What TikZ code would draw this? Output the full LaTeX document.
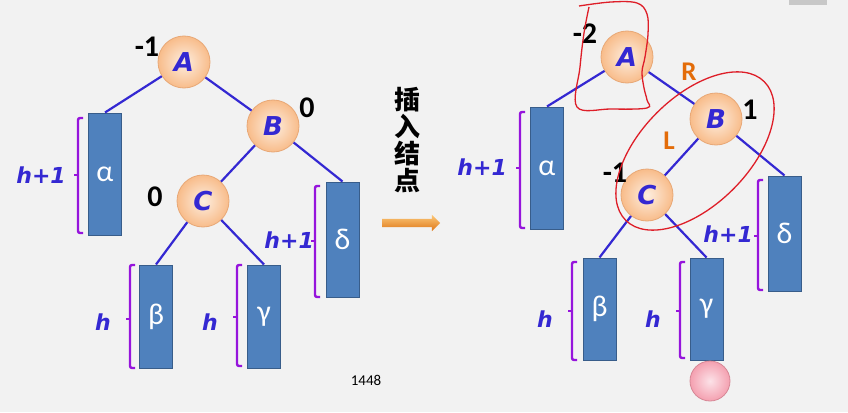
\documentclass[tikz,border=0pt]{standalone}
\usepackage{fontspec}
\setmainfont{Carlito}
\newfontfamily\dejavu{DejaVu Sans}
\newfontfamily\cjk{Noto Sans CJK SC}
\usetikzlibrary{shapes.arrows}
\definecolor{hinter}{RGB}{242,242,242}
\definecolor{grau}{RGB}{200,200,200}
\definecolor{blau}{RGB}{52,40,210}
\definecolor{lila}{RGB}{150,20,220}
\definecolor{rfill}{RGB}{79,129,189}
\definecolor{rrand}{RGB}{56,93,138}
\definecolor{kinnen}{RGB}{253,238,224}
\definecolor{kaussen}{RGB}{248,188,138}
\definecolor{krand}{RGB}{232,168,118}
\definecolor{rinnen}{RGB}{252,226,232}
\definecolor{raussen}{RGB}{244,160,176}
\definecolor{rrosa}{RGB}{214,136,150}
\definecolor{rot}{RGB}{222,30,40}
\definecolor{porange}{RGB}{227,108,9}
\definecolor{phell}{RGB}{252,200,120}
\definecolor{pdunkel}{RGB}{222,118,24}

% Klammer: x links, oben, mitte, unten
\newcommand{\klammer}[4]{%
	\draw[klammerlinie] (#1+5,#2) -- (#1,#2) -- (#1,#4) -- (#1+5,#4);
	\draw[klammerlinie, rounded corners=0pt] (#1,#3) -- (#1-4,#3);}

\begin{document}
\begin{tikzpicture}[x=1pt, y=-1pt,
	knoten/.style={circle, draw=krand, line width=0.8pt, inner color=kinnen, outer color=kaussen, minimum size=52pt, inner sep=0pt, text=blau, font=\dejavu\bfseries\itshape\fontsize{26}{26}\selectfont},
	baum/.style={rectangle, draw=rrand, line width=1pt, fill=rfill, minimum width=33pt, inner sep=0pt, text=white, font=\fontsize{30}{30}\selectfont},
	kante/.style={blau, line width=2.2pt},
	klammerlinie/.style={lila, line width=2.4pt, rounded corners=2pt},
	zahl/.style={font=\bfseries\fontsize{30}{30}\selectfont},
	hoehe/.style={anchor=east, inner sep=0pt, text=blau, font=\dejavu\bfseries\itshape\fontsize{22}{22}\selectfont},
	rl/.style={text=porange, font=\bfseries\fontsize{27}{27}\selectfont},
	rotstift/.style={rot, line width=1.3pt}]

	\fill[hinter] (0,0) rectangle (848,412);
	\fill[grau] (789,0) rectangle (827,5);

	% vorher
	\node[baum, minimum height=122pt] (al1) at (105,174) {α};
	\node[baum, minimum height=103pt] (be1) at (156,316.5) {β};
	\node[baum, minimum height=103pt] (ga1) at (264,316.5) {γ};
	\node[baum, minimum height=115pt] (de1) at (342.5,239.5) {δ};

	\node[knoten] (A1) at (184,62) {A};
	\node[knoten] (B1) at (273,126) {B};
	\node[knoten] (C1) at (203,201) {C};

	\draw[kante] (A1) -- (al1.north);
	\draw[kante] (A1) -- (B1);
	\draw[kante] (B1) -- (C1);
	\draw[kante] (B1) -- (de1.north);
	\draw[kante] (C1) -- (be1.north);
	\draw[kante] (C1) -- (ga1.north);

	\node[zahl] (nA1) at (147,47) {-1};
	\node[zahl] (nB1) at (307,108) {0};
	\node[zahl] (nC1) at (155,197) {0};

	\klammer{78}{118}{175}{233}
	\klammer{130}{265}{319}{368}
	\klammer{237}{265}{317}{366}
	\klammer{315}{186}{241}{297}
	\node[hoehe] (hal1) at (66,175) {h+1};
	\node[hoehe] (hbe1) at (111,322) {h};
	\node[hoehe] (hga1) at (218,322) {h};
	\node[hoehe] (hde1) at (314,240) {h+1};

	% einfuegen
	\node[align=center, font=\cjk\bfseries\fontsize{26}{27}\selectfont] (txt) at (407,140) {插\\入\\结\\点};
	\node[single arrow, minimum height=58pt, inner xsep=0pt, inner ysep=4pt, single arrow head extend=4pt, top color=phell, bottom color=pdunkel] (ins) at (409,223) {};
	\node[font=\fontsize{15}{15}\selectfont] (nr) at (366,380) {1448};

	% nachher
	\node[baum, minimum height=122pt] (al2) at (547,168) {α};
	\node[baum, minimum height=102pt] (be2) at (599.5,309) {β};
	\node[baum, minimum height=102pt] (ga2) at (706.5,309) {γ};
	\node[baum, minimum height=115pt] (de2) at (784.5,233.5) {δ};

	\node[knoten] (A2) at (627,57) {A};
	\node[knoten] (B2) at (716,119) {B};
	\node[knoten] (C2) at (647,195) {C};
	\node[circle, minimum size=40pt, inner sep=0pt, draw=rrosa, line width=0.8pt, inner color=rinnen, outer color=raussen] (neu) at (710,381) {};

	\draw[kante] (A2) -- (al2.north);
	\draw[kante] (A2) -- (B2);
	\draw[kante] (B2) -- (C2);
	\draw[kante] (B2) -- (de2.north);
	\draw[kante] (C2) -- (be2.north);
	\draw[kante] (C2) -- (ga2.north);

	\node[zahl] (nA2) at (585,34) {-2};
	\node[zahl] (nB2) at (750,110) {1};
	\node[zahl] (nC2) at (615,173) {-1};
	\node[rl] (R) at (689,72) {R};
	\node[rl] (L) at (669,141) {L};

	\klammer{520}{112}{168}{228}
	\klammer{572}{262}{311}{360}
	\klammer{680}{262}{311}{358}
	\klammer{758}{180}{236}{290}
	\node[hoehe] (hal2) at (507,167) {h+1};
	\node[hoehe] (hbe2) at (553,319) {h};
	\node[hoehe] (hga2) at (661,319) {h};
	\node[hoehe] (hde2) at (753,234) {h+1};

	% Rotstift
	\draw[rotstift] plot[smooth, tension=0.6] coordinates {(579,6) (611,2) (637,3) (647,14) (648,34) (645,57) (642,72) (644,88) (647,100) (647,108) (611,109) (577,107) (580,67) (584,33) (589,7)};
	\draw[rotstift, rotate around={45:(695,151)}] (695,151) ellipse [x radius=98, y radius=54];

\end{tikzpicture}
\end{document}
